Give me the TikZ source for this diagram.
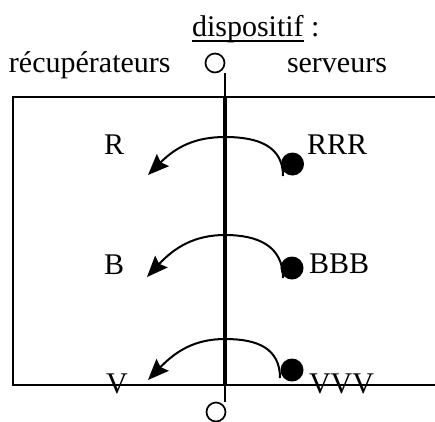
\documentclass[tikz,border=0pt]{standalone}
\usepackage{fontspec}
\setmainfont{Liberation Serif}
\usetikzlibrary{arrows.meta}
% word underline placed just under the baseline
\newcommand\lowline[1]{\setbox0\hbox{#1}\rlap{\rule[-5.6pt]{\wd0}{1.4pt}}\box0}
\begin{document}
\begin{tikzpicture}[x=1pt,y=-1pt,
  lbl/.style={inner sep=0pt,outer sep=0pt,anchor=base west,font=\fontsize{30}{35}\selectfont},
  frame/.style={line width=2pt},
  axis/.style={line width=3.2pt},
  stub/.style={line width=2pt},
  port/.style={circle,draw,line width=1.7pt,minimum size=19pt,inner sep=0pt},
  source/.style={circle,fill,minimum size=23pt,inner sep=0pt},
  transfer/.style={line width=2pt,-{Stealth[length=21pt,width=17pt,inset=3pt]}}]
\useasboundingbox (0,0) rectangle (435,421);

% headings
\node[lbl] (disp) at (192,36) {\lowline{dispositif}\ :};
\node[lbl] (recup) at (9,72) {récupérateurs};
\node[lbl] (serv) at (287,72) {serveurs};

% frame, open on the right
\draw[frame] (435,97) -- (13,97) -- (13,385) -- (435,385);

% the device axis with its two ports
\node[port] (ptop) at (215,63) {};
\node[port] (pbot) at (216,412) {};
\coordinate (atop) at (225,73);
\coordinate (ain) at (225,97);
\coordinate (aout) at (225,385);
\coordinate (abot) at (225,402);
\draw[stub] (atop) -- (ain);
\draw[axis] (ain) -- (aout);
\draw[stub] (aout) -- (abot);

% receivers (left) and servers (right)
\node[lbl] (r) at (104,154) {R};
\node[lbl] (b) at (104,274) {B};
\node[lbl] (v) at (106,393) {V};
\node[lbl] (rrr) at (307,154) {RRR};
\node[lbl] (bbb) at (309,273) {BBB};
\node[lbl] (vvv) at (309,393) {VVV};

\node[source] (sr) at (292.5,164) {};
\node[source] (sb) at (292,268) {};
\node[source] (sv) at (292,370) {};

% transfer arcs across the axis
\coordinate (fr) at (283,176);
\coordinate (tr) at (148,175);
\coordinate (fb) at (283,278);
\coordinate (tb) at (147,277);
\coordinate (fv) at (280,378);
\coordinate (tv) at (148,380);

\draw[transfer] (fr) .. controls (283,146) and (258,137) .. (225,137)
  .. controls (195,137) and (176,147) .. (tr);
\draw[transfer] (fb) .. controls (283,246) and (258,235) .. (225,235)
  .. controls (195,235) and (175,247) .. (tb);
\draw[transfer] (fv) .. controls (280,348) and (257,339) .. (225,339)
  .. controls (195,339) and (176,351) .. (tv);
\end{tikzpicture}
\end{document}
